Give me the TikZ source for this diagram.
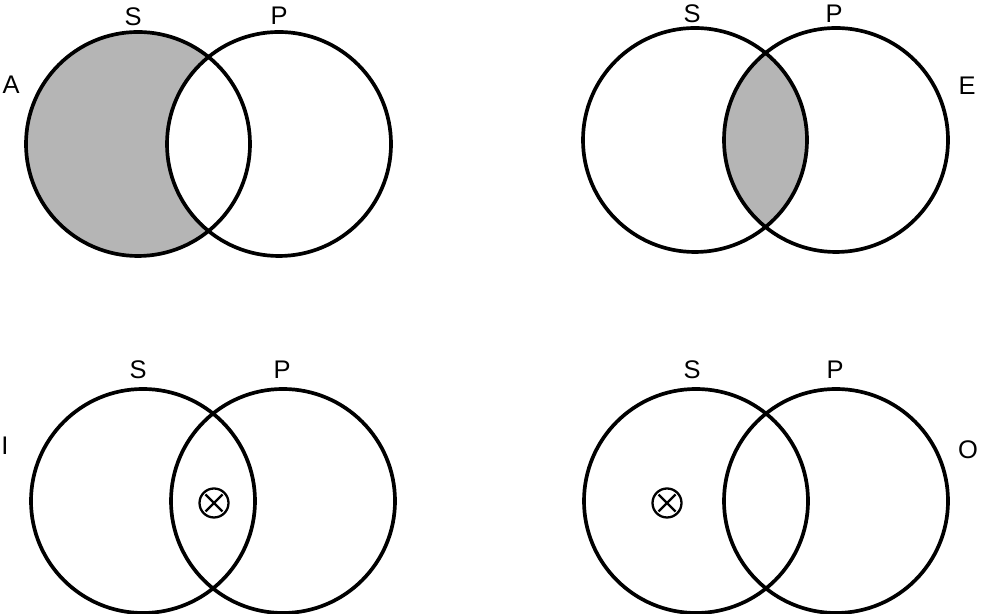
\documentclass[tikz,border=0pt]{standalone}
\usepackage{fontspec}
\setmainfont{Liberation Sans}
\usetikzlibrary{positioning}
\definecolor{grisSombra}{RGB}{181,181,181}

\newcommand{\radio}{2.24}

\begin{document}
\begin{tikzpicture}[
    conjunto/.style={
        draw=black,
        line width=2.1pt
    },
    sombra/.style={
        fill=grisSombra
    },
    etiqueta/.style={
        font=\fontsize{14.5}{17}\selectfont,
        inner sep=0pt
    },
    marca/.style={
        circle,
        draw=black,
        line width=1.3pt,
        minimum size=0.58cm,
        inner sep=0pt,
        path picture={
            \draw[line width=1.3pt]
                ([shift={(-0.17,-0.17)}]path picture bounding box.center) --
                ([shift={(0.17,0.17)}]path picture bounding box.center)
                ([shift={(-0.17,0.17)}]path picture bounding box.center) --
                ([shift={(0.17,-0.17)}]path picture bounding box.center);
        }
    }
]

\useasboundingbox (0,0) rectangle (19.66,12.28);

% centros de los conjuntos
\coordinate (sA) at (2.76,9.40);
\coordinate (pA) at (5.58,9.40);
\coordinate (sE) at (13.90,9.48);
\coordinate (pE) at (16.72,9.48);
\coordinate (sI) at (2.86,2.26);
\coordinate (pI) at (5.66,2.26);
\coordinate (sO) at (13.92,2.26);
\coordinate (pO) at (16.72,2.26);

% A: S fuera de P sombreado
\fill[sombra] (sA) circle (\radio);
\fill[white] (pA) circle (\radio);
\draw[conjunto] (sA) circle (\radio) (pA) circle (\radio);

% E: interseccion sombreada
\begin{scope}
    \clip (sE) circle (\radio);
    \fill[sombra] (pE) circle (\radio);
\end{scope}
\draw[conjunto] (sE) circle (\radio) (pE) circle (\radio);

% I y O
\draw[conjunto] (sI) circle (\radio) (pI) circle (\radio);
\draw[conjunto] (sO) circle (\radio) (pO) circle (\radio);

\node[marca] (xI) at (4.28,2.22) {};
\node[marca] (xO) at (13.34,2.22) {};

% etiquetas
\node[etiqueta] (labSA) at (2.66,11.94) {S};
\node[etiqueta] (labPA) at (5.58,11.96) {P};
\node[etiqueta] (labA) at (0.22,10.58) {A};
\node[etiqueta] (labSE) at (13.84,12.00) {S};
\node[etiqueta] (labPE) at (16.68,12.00) {P};
\node[etiqueta] (labE) at (19.34,10.56) {E};
\node[etiqueta] (labSI) at (2.76,4.88) {S};
\node[etiqueta] (labPI) at (5.64,4.88) {P};
\node[etiqueta] (labI) at (0.10,3.36) {I};
\node[etiqueta] (labSO) at (13.84,4.88) {S};
\node[etiqueta] (labPO) at (16.70,4.88) {P};
\node[etiqueta] (labO) at (19.36,3.28) {O};

\end{tikzpicture}
\end{document}
